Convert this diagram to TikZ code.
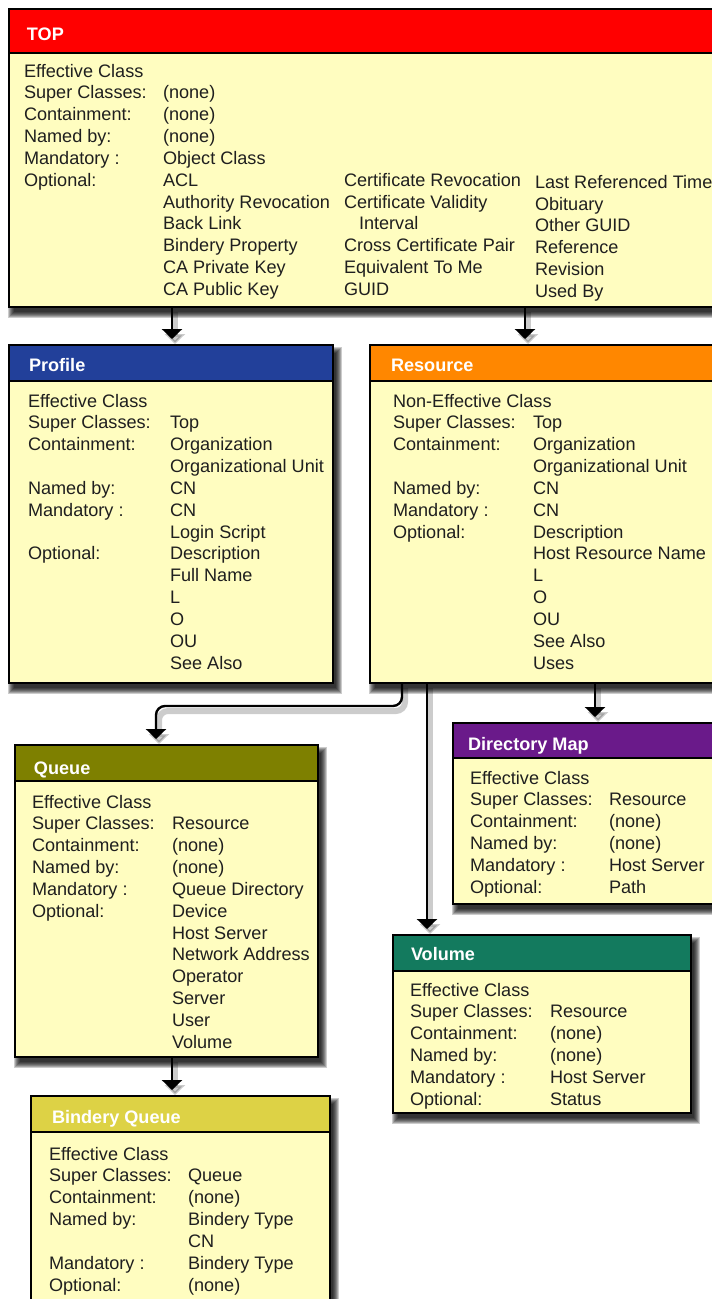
\documentclass[tikz,border=0pt]{standalone}
\usepackage{fontspec}
\setmainfont{Liberation Sans}
\usetikzlibrary{arrows.meta,backgrounds}
\definecolor{bodyc}{HTML}{FFFDC0}
\definecolor{topc}{HTML}{FF0000}
\definecolor{profc}{HTML}{22409A}
\definecolor{resc}{HTML}{FF8700}
\definecolor{queuec}{HTML}{7E8000}
\definecolor{dirc}{HTML}{6A1A8A}
\definecolor{volc}{HTML}{137A5E}
\definecolor{bindc}{HTML}{DDD245}
\tikzset{
  classbox/.style={draw=black, line width=2.4pt, fill=bodyc, inner sep=0pt, outer sep=0pt,
    anchor=north west, rectangle},
  edge/.style={draw=black, line width=2.4pt},
  shadowpiece/.style={fill=black, opacity=0.2},
  txt/.style={anchor=base west, inner sep=0pt, outer sep=0pt, font=\fontsize{18.1}{20}\selectfont, text=black!88},
  ttl/.style={anchor=base west, inner sep=0pt, outer sep=0pt, font=\fontsize{18.1}{20}\selectfont\bfseries, text=white},
  conn/.style={draw=black, line width=2.4pt, -{Triangle[length=10pt,width=20pt]}, shorten >=6pt,
    preaction={draw=black, opacity=0.2, line width=6pt, transform canvas={shift={(3pt,-5pt)}}}}
}
\newcommand\hdrbar[3]{%
  \fill[#3] (#1.north west) rectangle ([yshift=-#2pt]#1.north east);
  \draw[edge] ([yshift=-#2pt]#1.north west) -- ([yshift=-#2pt]#1.north east);
  \draw[edge] (#1.north west) rectangle (#1.south east);}
\newcommand\boxshadow[1]{%
  \foreach \k in {0,1,2,3,4,5,6}{\fill[shadowpiece] ([shift={(5-\k,8-\k)}]#1.north west) rectangle ([shift={(3+\k,5+\k)}]#1.south east);}}
\newcommand\colrows[4]{%
  \foreach \r/\t [count=\i] in {#4} {\node[txt] (#1-\i) at (#2, {#3+\r*21.85}) {\t};}}
\begin{document}
\begin{tikzpicture}[x=1pt,y=-1pt]
\useasboundingbox (0,0) rectangle (712,1299);
\begin{scope}
\clip (0,0) rectangle (712,1299);
\coordinate (xa) at (172,0);
\coordinate (xb) at (525,0);
\coordinate (xq1) at (402,0);
\coordinate (xq2) at (156,0);
\coordinate (yq) at (0,706);
\coordinate (xv) at (427,0);
\coordinate (xd) at (595,0);
\coordinate (xbq) at (172,0);
% ---------- boxes ----------
\node[classbox, minimum width=751pt, minimum height=298pt] (top) at (9,9) {};
\hdrbar{top}{44}{topc}
\node[classbox, minimum width=324pt, minimum height=338pt] (profile) at (9,345) {};
\hdrbar{profile}{36}{profc}
\node[classbox, minimum width=400pt, minimum height=338pt] (resource) at (370,345) {};
\hdrbar{resource}{36}{resc}
\node[classbox, minimum width=303pt, minimum height=312pt] (queue) at (15,745) {};
\hdrbar{queue}{36}{queuec}
\node[classbox, minimum width=320pt, minimum height=181pt] (dirmap) at (453,723) {};
\hdrbar{dirmap}{35}{dirc}
\node[classbox, minimum width=298pt, minimum height=178pt] (volume) at (393,935) {};
\hdrbar{volume}{36}{volc}
\node[classbox, minimum width=299pt, minimum height=250pt] (bindery) at (31,1096) {};
\hdrbar{bindery}{36}{bindc}
% ---------- titles ----------
\node[ttl] (top-t) at (27,40) {TOP};
\node[ttl] (profile-t) at (29,371) {Profile};
\node[ttl] (resource-t) at (391,371) {Resource};
\node[ttl] (queue-t) at (34,774) {Queue};
\node[ttl] (dirmap-t) at (468,750) {Directory Map};
\node[ttl] (volume-t) at (411,960) {Volume};
\node[ttl] (bindery-t) at (52,1123) {Bindery Queue};
% ---------- TOP ----------
\colrows{topL}{24}{77}{0/Effective Class,1/Super Classes:,2/Containment:,3/Named by:,4/Mandatory :,5/Optional:}
\colrows{topV}{163}{77}{1/(none),2/(none),3/(none),4/Object Class,5/ACL,6/Authority Revocation,7/Back Link,8/Bindery Property,9/CA Private Key,10/CA Public Key}
\colrows{topW}{344}{77}{5/Certificate Revocation,6/Certificate Validity,8/Cross Certificate Pair,9/Equivalent To Me,10/GUID}
\node[txt] (topW-int) at (359,{77+7*21.85}) {Interval};
\colrows{topX}{535}{79}{5/Last Referenced Time,6/Obituary,7/Other GUID,8/Reference,9/Revision,10/Used By}
% ---------- Profile ----------
\colrows{proL}{28}{407}{0/Effective Class,1/Super Classes:,2/Containment:,4/Named by:,5/Mandatory :,7/Optional:}
\colrows{proV}{170}{407}{1/Top,2/Organization,3/Organizational Unit,4/CN,5/CN,6/Login Script,7/Description,8/Full Name,9/L,10/O,11/OU,12/See Also}
% ---------- Resource ----------
\colrows{resL}{393}{407}{0/Non-Effective Class,1/Super Classes:,2/Containment:,4/Named by:,5/Mandatory :,6/Optional:}
\colrows{resV}{533}{407}{1/Top,2/Organization,3/Organizational Unit,4/CN,5/CN,6/Description,7/Host Resource Name,8/L,9/O,10/OU,11/See Also,12/Uses}
% ---------- Queue ----------
\colrows{queL}{32}{808}{0/Effective Class,1/Super Classes:,2/Containment:,3/Named by:,4/Mandatory :,5/Optional:}
\colrows{queV}{172}{808}{1/Resource,2/(none),3/(none),4/Queue Directory,5/Device,6/Host Server,7/Network Address,8/Operator,9/Server,10/User,11/Volume}
% ---------- Directory Map ----------
\colrows{dirL}{470}{784}{0/Effective Class,1/Super Classes:,2/Containment:,3/Named by:,4/Mandatory :,5/Optional:}
\colrows{dirV}{609}{784}{1/Resource,2/(none),3/(none),4/Host Server,5/Path}
% ---------- Volume ----------
\colrows{volL}{410}{996}{0/Effective Class,1/Super Classes:,2/Containment:,3/Named by:,4/Mandatory :,5/Optional:}
\colrows{volV}{550}{996}{1/Resource,2/(none),3/(none),4/Host Server,5/Status}
% ---------- Bindery Queue ----------
\colrows{binL}{49}{1160}{0/Effective Class,1/Super Classes:,2/Containment:,3/Named by:,5/Mandatory :,6/Optional:}
\colrows{binV}{188}{1160}{1/Queue,2/(none),3/Bindery Type,4/CN,5/Bindery Type,6/(none)}
% ---------- connectors ----------
\draw[conn] (top.south -| xa) -- (profile.north -| xa);
\draw[conn] (top.south -| xb) -- (resource.north -| xb);
\draw[conn, rounded corners=9pt] (resource.south -| xq1) -- (xq1 |- yq) -- (xq2 |- yq) -- (queue.north -| xq2);
\draw[conn] (resource.south -| xv) -- (volume.north -| xv);
\draw[conn] (resource.south -| xd) -- (dirmap.north -| xd);
\draw[conn] (queue.south -| xbq) -- (bindery.north -| xbq);
\end{scope}
% ---------- background and shadows ----------
\begin{pgfonlayer}{background}
\clip (0,0) rectangle (712,1299);
\fill[white] (0,0) rectangle (712,1299);
\boxshadow{top}
\boxshadow{profile}
\boxshadow{resource}
\boxshadow{queue}
\boxshadow{dirmap}
\boxshadow{volume}
\boxshadow{bindery}
\end{pgfonlayer}
\end{tikzpicture}
\end{document}
